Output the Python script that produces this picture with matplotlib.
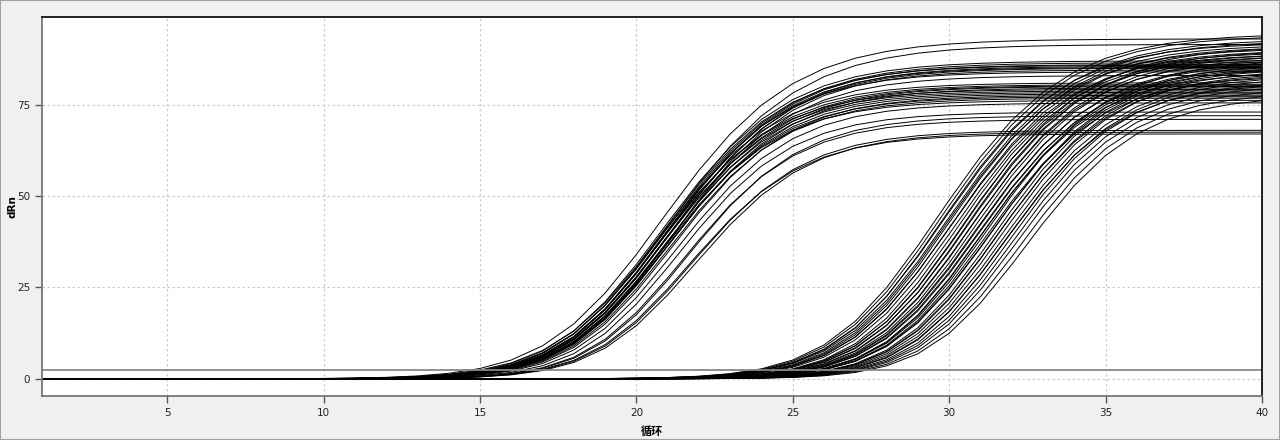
import numpy as np
import matplotlib
matplotlib.use("Agg")
import matplotlib.pyplot as plt

plt.rcParams['font.family'] = ['DejaVu Sans', 'Noto Sans CJK SC']

#### curve data (plateau, midpoint cycle, slope)
cycles = np.arange(1, 41)

# early group
a_plateau = [93.0, 91.5, 87.0, 86.5, 86.0, 85.8, 85.5, 85.2, 85.0, 84.5, 84.0, 83.0,
             81.0, 80.5, 80.2, 80.0, 79.6, 79.2, 78.8, 78.4, 78.0, 77.6, 77.2, 76.8,
             76.2, 75.5, 73.0, 72.0, 71.0, 68.0, 67.5, 67.0]
a_mid = [19.9, 20.15, 19.95, 20.05, 20.15, 20.0, 20.25, 20.1, 20.2, 20.35, 20.05, 20.3,
         19.85, 19.95, 20.05, 20.15, 20.25, 19.9, 20.0, 20.1, 20.2, 20.35, 20.15, 20.25,
         20.05, 20.45, 20.55, 20.85, 20.75, 21.0, 21.1, 20.9]
a_slope = [2.2, 2.2, 2.1, 2.1, 2.05, 2.05, 2.05, 2.05, 2.05, 2.0, 2.0, 2.0,
           2.0, 2.0, 2.0, 2.0, 2.0, 1.95, 1.95, 1.95, 1.95, 1.95, 1.95, 1.95,
           1.95, 1.95, 1.9, 1.9, 1.9, 1.9, 1.9, 1.9]

# late group
b_plateau = [94.5, 94.0, 93.0, 92.5, 92.0, 91.5, 91.0, 90.5, 90.0, 89.5, 89.0, 88.5,
             91.0, 90.0, 89.0, 88.5, 88.0, 87.5, 87.0, 86.5, 86.0, 85.5, 85.0, 84.0, 83.0,
             87.5, 86.5, 85.5, 85.0, 84.5, 84.0, 83.5, 83.0, 82.5, 81.5, 81.0, 80.5,
             79.5, 78.5, 77.5]
b_mid = [28.75, 28.85, 28.95, 29.05, 28.9, 29.15, 29.25, 29.05, 29.35, 29.2, 29.45, 29.55,
         29.65, 29.75, 29.7, 29.85, 29.95, 29.8, 30.05, 30.0, 30.15, 30.1, 30.25, 30.2, 30.35,
         30.4, 30.55, 30.5, 30.65, 30.75, 30.85, 30.7, 30.95, 31.05, 31.15, 31.0, 31.25,
         31.35, 31.5, 31.65]
b_slope = [2.1, 2.1, 2.1, 2.1, 2.05, 2.05, 2.05, 2.05, 2.05, 2.05, 2.0, 2.0,
           2.05, 2.05, 2.0, 2.0, 2.0, 2.0, 2.0, 2.0, 2.0, 2.0, 1.95, 1.95, 1.95,
           2.0, 2.0, 2.0, 1.95, 1.95, 1.95, 1.95, 1.95, 1.95, 1.9, 1.9, 1.9,
           1.9, 1.9, 1.9]
shape = 1.5  # asymmetry of the amplification curves

threshold = 2.5
xticks = [5, 10, 15, 20, 25, 30, 35, 40]
yticks = [0, 25, 50, 75]

################

fig = plt.figure(figsize=(12.8, 4.4), dpi=100, facecolor='#f0f0f0')
fig.patches.append(plt.Rectangle((0, 0), 1, 1, transform=fig.transFigure,
                                 fill=False, edgecolor='#a0a0a0', lw=1.5))
ax = fig.add_axes([42/1280, 1 - 396/440, (1262 - 42)/1280, (396 - 17)/440])
ax.set_facecolor('white')

for F, x0, s in zip(a_plateau + b_plateau, a_mid + b_mid, a_slope + b_slope):
    y = F / (1 + np.exp(-(cycles - x0) / s)) ** shape
    ax.plot(cycles, y, color='black', lw=0.7)

ax.axhline(threshold, color='#888888', lw=1.3)

ax.set_xlim(1, 40)
ax.set_ylim(-4.7, 99)
ax.set_xticks(xticks)
ax.set_yticks(yticks)
ax.grid(True, color='#cccccc', linestyle=(0, (2, 2)), lw=0.9)
ax.tick_params(direction='out', length=5, width=1, colors='#555555',
               labelcolor='#222222', labelsize=7.5)

for side in ['top', 'right']:
    ax.spines[side].set_color('#111111')
for side in ['left', 'bottom']:
    ax.spines[side].set_color('#777777')
for sp in ax.spines.values():
    sp.set_linewidth(1.3)

fig.text(652/1280, 1 - 431/440, '循环', fontsize=8, fontweight='bold',
         family=['Noto Sans CJK SC', 'DejaVu Sans'], ha='center', va='center')
fig.text(12/1280, 1 - 207/440, 'dRn', fontsize=7.5, fontweight='bold',
         rotation=90, ha='center', va='center')

plt.savefig('out.png', dpi=100, facecolor=fig.get_facecolor())
